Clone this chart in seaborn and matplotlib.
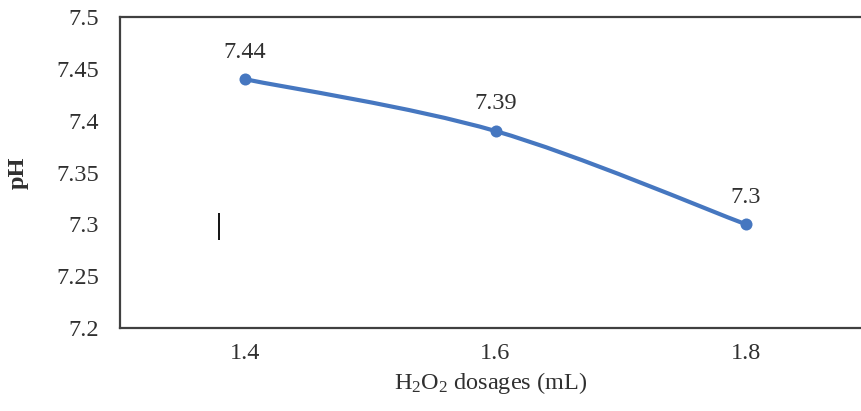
import numpy as np
import pandas as pd
import matplotlib
matplotlib.use("Agg")
import matplotlib.pyplot as plt
from matplotlib.path import Path
from matplotlib.patches import PathPatch
import seaborn as sns

# Data
dosage = [1.4, 1.6, 1.8]
ph = [7.44, 7.39, 7.3]
yticks = [7.2, 7.25, 7.3, 7.35, 7.4, 7.45, 7.5]
xticks = [1.4, 1.6, 1.8]
xlabel_text = "H$_2$O$_2$ dosages (mL)"
ylabel_text = "pH"

df = pd.DataFrame({"dosage": dosage, "ph": ph})

sns.set_theme(style="white")
plt.rcParams["font.family"] = ["Liberation Serif", "DejaVu Serif"]
plt.rcParams["mathtext.fontset"] = "custom"
plt.rcParams["mathtext.rm"] = "Liberation Serif"
plt.rcParams["mathtext.it"] = "Liberation Serif:italic"

W, H, DPI = 861, 411, 100
fig = plt.figure(figsize=(W / DPI, H / DPI), dpi=DPI)

# axes box: left 120px, top 17px, bottom 328px; extends to right edge
left, top, bottom, right = 120, 17, 328, 861
ax = fig.add_axes([left / W, 1 - bottom / H, (right - left) / W, (bottom - top) / H])

line_color = "#4677C0"
text_color = "#303030"
fs = 17.5

# markers via seaborn
sns.scatterplot(data=df, x="dosage", y="ph", ax=ax, color=line_color,
                s=75, edgecolor=line_color, linewidth=0, zorder=4, legend=False)

# smoothed connecting line (Catmull-Rom as cubic Bezier)
pts = np.column_stack([df["dosage"].to_numpy(), df["ph"].to_numpy()])
n = len(pts)
verts = [tuple(pts[0])]
codes = [Path.MOVETO]
for i in range(n - 1):
    p0 = pts[max(i - 1, 0)]
    p1 = pts[i]
    p2 = pts[i + 1]
    p3 = pts[min(i + 2, n - 1)]
    c1 = p1 + (p2 - p0) / 6.0
    c2 = p2 - (p3 - p1) / 6.0
    verts += [tuple(c1), tuple(c2), tuple(p2)]
    codes += [Path.CURVE4] * 3
ax.add_patch(PathPatch(Path(verts, codes), facecolor="none",
                       edgecolor=line_color, lw=3.0, capstyle="round", zorder=3))

# value labels
for x, y in zip(dosage, ph):
    ax.annotate(f"{y:g}", (x, y), xytext=(0, 12), textcoords="offset points",
                ha="center", va="bottom", fontsize=fs, color=text_color)

# small vertical stroke inside the plot area
ax.vlines(1.379, 7.285, 7.311, color="black", lw=1.3, zorder=2)

# axis ranges: category-style padding of half a step on each side
ax.set_ylim(7.2, 7.5)
px_per_unit = (746 - 245) / 0.4
ax.set_xlim(1.4 - (245 - left) / px_per_unit, 1.4 + (right - 245) / px_per_unit)

ax.set_xticks(xticks)
ax.set_xticklabels([f"{v:g}" for v in xticks])
ax.set_yticks(yticks)
ax.set_yticklabels([f"{v:g}" for v in yticks])
ax.tick_params(axis="both", length=0, labelsize=fs, colors=text_color)
ax.tick_params(axis="y", pad=15)
ax.tick_params(axis="x", pad=11)

for side in ["left", "bottom", "top"]:
    ax.spines[side].set_visible(True)
    ax.spines[side].set_color("#404040")
    ax.spines[side].set_linewidth(1.6)
ax.spines["right"].set_visible(False)

ax.set_xlabel(xlabel_text, fontsize=fs, color=text_color, labelpad=4)
ax.set_ylabel(ylabel_text, fontsize=fs, color=text_color, fontweight="bold", labelpad=20)

fig.savefig("out.png", dpi=DPI)
